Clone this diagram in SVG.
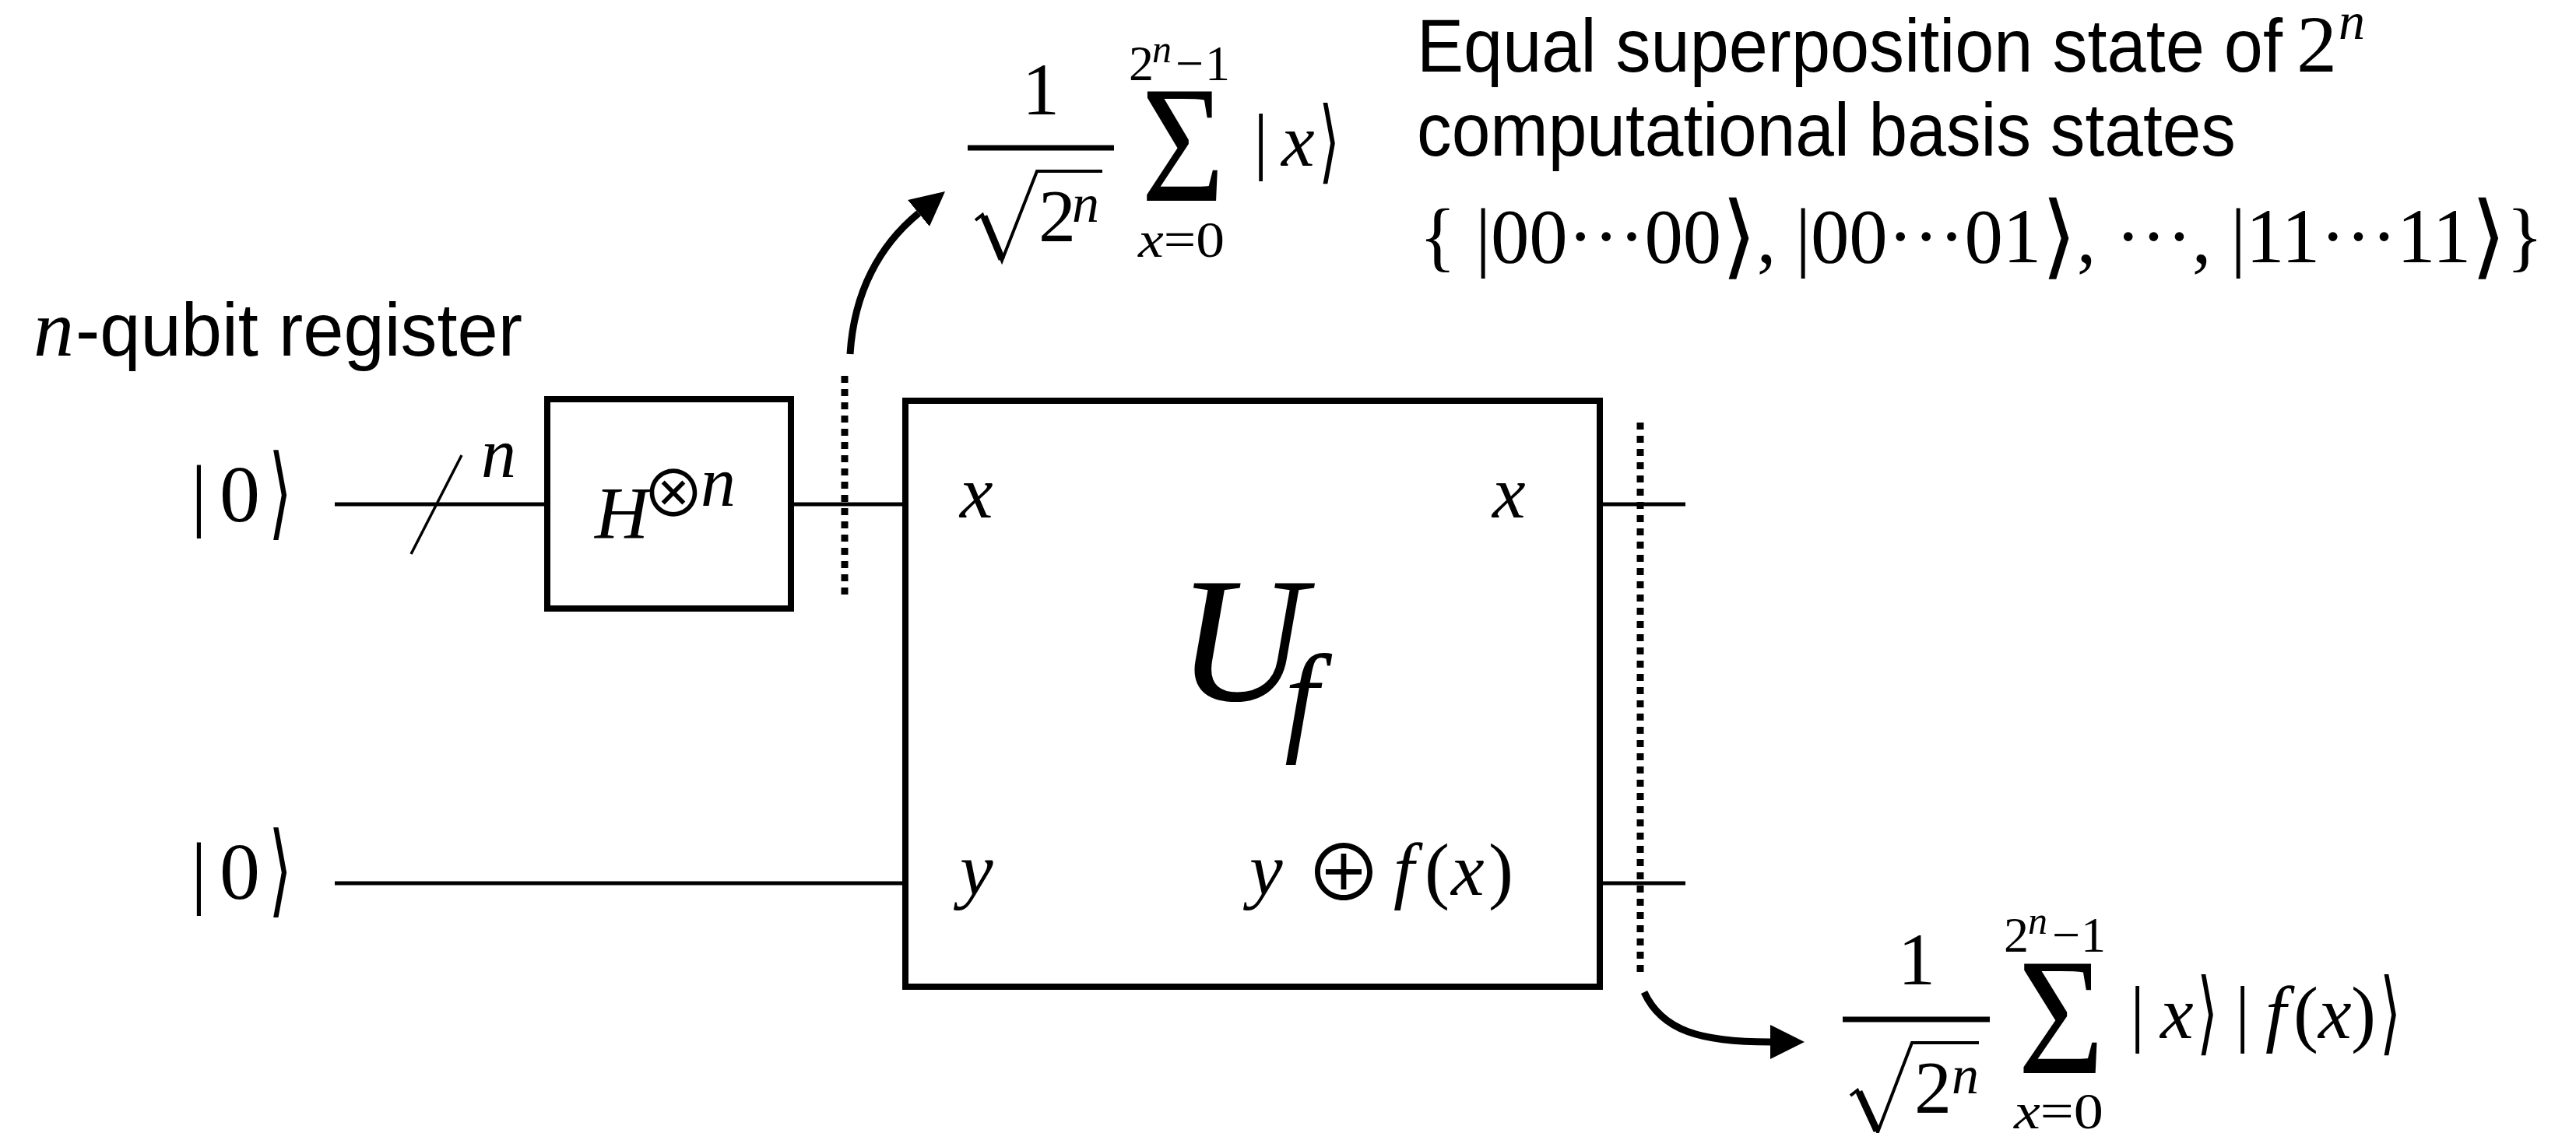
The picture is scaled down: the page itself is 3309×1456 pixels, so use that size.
<svg xmlns="http://www.w3.org/2000/svg" width="3309" height="1456" viewBox="0 0 3309 1456">
<defs>
<style>
.m{font-family:"Liberation Serif","Times New Roman",serif;fill:#000}
.i{font-style:italic}
.s{font-family:"Liberation Sans",Arial,sans-serif;fill:#000}
.k{font-family:"DejaVu Sans",sans-serif;fill:#000}
.op{font-family:"Noto Sans CJK JP","Noto Sans CJK SC","DejaVu Sans",sans-serif;fill:#000}
.wire{stroke:#000;stroke-width:5;fill:none}
.box{stroke:#000;stroke-width:8;fill:#fff}
.dots{stroke:#000;stroke-width:9;stroke-dasharray:9 8;fill:none}
.arrow{stroke:#000;stroke-width:9;fill:none}
.rad{stroke:#000;fill:none;stroke-linejoin:miter}
</style>
<marker id="ah" markerUnits="userSpaceOnUse" markerWidth="44" markerHeight="44" viewBox="0 0 44 44" refX="0" refY="22" orient="auto">
<path d="M0,0 L44,22 L0,44 Z" fill="#000"/>
</marker>
</defs>
<rect width="3309" height="1456" fill="#fff"/>

<g id="connectors">
<line class="wire" x1="430" y1="648" x2="703" y2="648"/>
<line class="wire" x1="1016" y1="648" x2="1163" y2="648"/>
<line class="wire" x1="430" y1="1135" x2="1163" y2="1135"/>
<line class="wire" x1="2055" y1="648" x2="2165" y2="648"/>
<line class="wire" x1="2055" y1="1135" x2="2165" y2="1135"/>
<line stroke="#000" stroke-width="3.5" x1="528" y1="712" x2="593" y2="585"/>
<line class="dots" x1="1085" y1="483" x2="1085" y2="770"/>
<line class="dots" x1="2107" y1="543" x2="2107" y2="1255"/>
<path class="arrow" d="M1092,455 C1097,375 1130,315 1180,274" marker-end="url(#ah)"/>
<path class="arrow" d="M2112,1275 C2135,1325 2185,1339 2274,1339" marker-end="url(#ah)"/>
</g>

<g id="register-label">
<text class="m i" x="43" y="457" font-size="104">n<tspan class="s" x="97" font-style="normal" font-size="97" textLength="574" lengthAdjust="spacingAndGlyphs">-qubit register</tspan></text>
</g>

<g id="input-top">
<text class="m" x="245" y="670" font-size="104">|<tspan x="282">0</tspan></text>
<text class="k" x="345" y="677" font-size="130" textLength="30" lengthAdjust="spacingAndGlyphs">⟩</text>
<text class="m i" x="618" y="613" font-size="90">n</text>
</g>

<g id="input-bottom">
<text class="m" x="245" y="1155" font-size="104">|<tspan x="282">0</tspan></text>
<text class="k" x="345" y="1162" font-size="130" textLength="30" lengthAdjust="spacingAndGlyphs">⟩</text>
</g>

<g id="hadamard">
<rect class="box" x="703" y="513" width="313" height="269"/>
<text class="m i" x="764" y="692" font-size="96">H</text>
<text class="op" x="824" y="664" font-size="82">⊗</text>
<text class="m i" x="900" y="650" font-size="90">n</text>
</g>

<g id="oracle">
<rect class="box" x="1163" y="515" width="892" height="753"/>
<text class="m i" x="1233" y="665" font-size="96">x</text>
<text class="m i" x="1917" y="665" font-size="96">x</text>
<text class="m i" x="1233" y="1150" font-size="96">y</text>
<text class="m i" x="1512" y="900" font-size="228">U<tspan x="1650" y="950" font-size="156">f</tspan></text>
<text class="m i" x="1605" y="1150" font-size="96">y</text>
<text class="op" x="1676" y="1158" font-size="100">⊕</text>
<text class="m i" x="1790" y="1150" font-size="96">f<tspan font-style="normal" x="1830">(</tspan><tspan x="1864">x</tspan><tspan font-style="normal" x="1912">)</tspan></text>
</g>

<g id="state-top">
<text class="m" x="1337" y="147" font-size="96" text-anchor="middle">1</text>
<line stroke="#000" stroke-width="7" x1="1243" y1="190" x2="1431" y2="190"/>
<path class="rad" stroke-width="4" d="M1253,283 L1262,276 L1287,335 L1332,220 L1416,220"/>
<path class="rad" stroke-width="9" d="M1264,278 L1287,333"/>
<text class="m" x="1334" y="310" font-size="96">2<tspan class="i" x="1377" y="285" font-size="70">n</tspan></text>
<text class="m" x="1450" y="103" font-size="64">2<tspan class="i" x="1480" y="80" font-size="50">n</tspan><tspan x="1510" y="103">−</tspan><tspan x="1548">1</tspan></text>
<text class="m" x="1466" y="258" font-size="214" textLength="107" lengthAdjust="spacingAndGlyphs">Σ</text>
<text class="m" x="1462" y="330" font-size="66" textLength="111" lengthAdjust="spacingAndGlyphs"><tspan class="i">x</tspan>=0</text>
<text class="m" x="1610" y="213" font-size="96">|<tspan class="i" x="1646">x</tspan></text>
<text class="k" x="1694" y="221" font-size="117" textLength="27" lengthAdjust="spacingAndGlyphs">⟩</text>
</g>

<g id="state-bottom">
<text class="m" x="2462" y="1265" font-size="96" text-anchor="middle">1</text>
<line stroke="#000" stroke-width="7" x1="2367" y1="1310" x2="2556" y2="1310"/>
<path class="rad" stroke-width="4" d="M2377,1408 L2386,1401 L2412,1455 L2456,1340 L2542,1340"/>
<path class="rad" stroke-width="9" d="M2388,1403 L2411,1453"/>
<text class="m" x="2459" y="1430" font-size="96">2<tspan class="i" x="2507" y="1405" font-size="70">n</tspan></text>
<text class="m" x="2574" y="1223" font-size="64">2<tspan class="i" x="2605" y="1200" font-size="50">n</tspan><tspan x="2636" y="1223">−</tspan><tspan x="2673">1</tspan></text>
<text class="m" x="2592" y="1379" font-size="214" textLength="111" lengthAdjust="spacingAndGlyphs">Σ</text>
<text class="m" x="2587" y="1450" font-size="66" textLength="115" lengthAdjust="spacingAndGlyphs"><tspan class="i">x</tspan>=0</text>
<text class="m" x="2736" y="1334" font-size="96">|<tspan class="i" x="2775">x</tspan></text>
<text class="k" x="2822" y="1341" font-size="117" textLength="27" lengthAdjust="spacingAndGlyphs">⟩</text>
<text class="m" x="2871" y="1334" font-size="96">|<tspan class="i" x="2910">f</tspan><tspan x="2946">(</tspan><tspan class="i" x="2978">x</tspan><tspan x="3020">)</tspan></text>
<text class="k" x="3057" y="1341" font-size="117" textLength="27" lengthAdjust="spacingAndGlyphs">⟩</text>
</g>

<g id="description">
<text class="s" x="1820" y="92" font-size="97" textLength="1112" lengthAdjust="spacingAndGlyphs">Equal superposition state of</text>
<text class="m" x="2950" y="92" font-size="104">2<tspan class="i" x="3004" y="50" font-size="68">n</tspan></text>
<text class="s" x="1820" y="200" font-size="97" textLength="1052" lengthAdjust="spacingAndGlyphs">computational basis states</text>
<text class="m" x="1823" y="337" font-size="100" textLength="1444" lengthAdjust="spacingAndGlyphs">{ |00···00<tspan class="k" font-size="118" dy="6">⟩</tspan><tspan dy="-6">, |00···01</tspan><tspan class="k" font-size="118" dy="6">⟩</tspan><tspan dy="-6">, ···, |11···11</tspan><tspan class="k" font-size="118" dy="6">⟩</tspan><tspan dy="-6">}</tspan></text>
</g>
</svg>
